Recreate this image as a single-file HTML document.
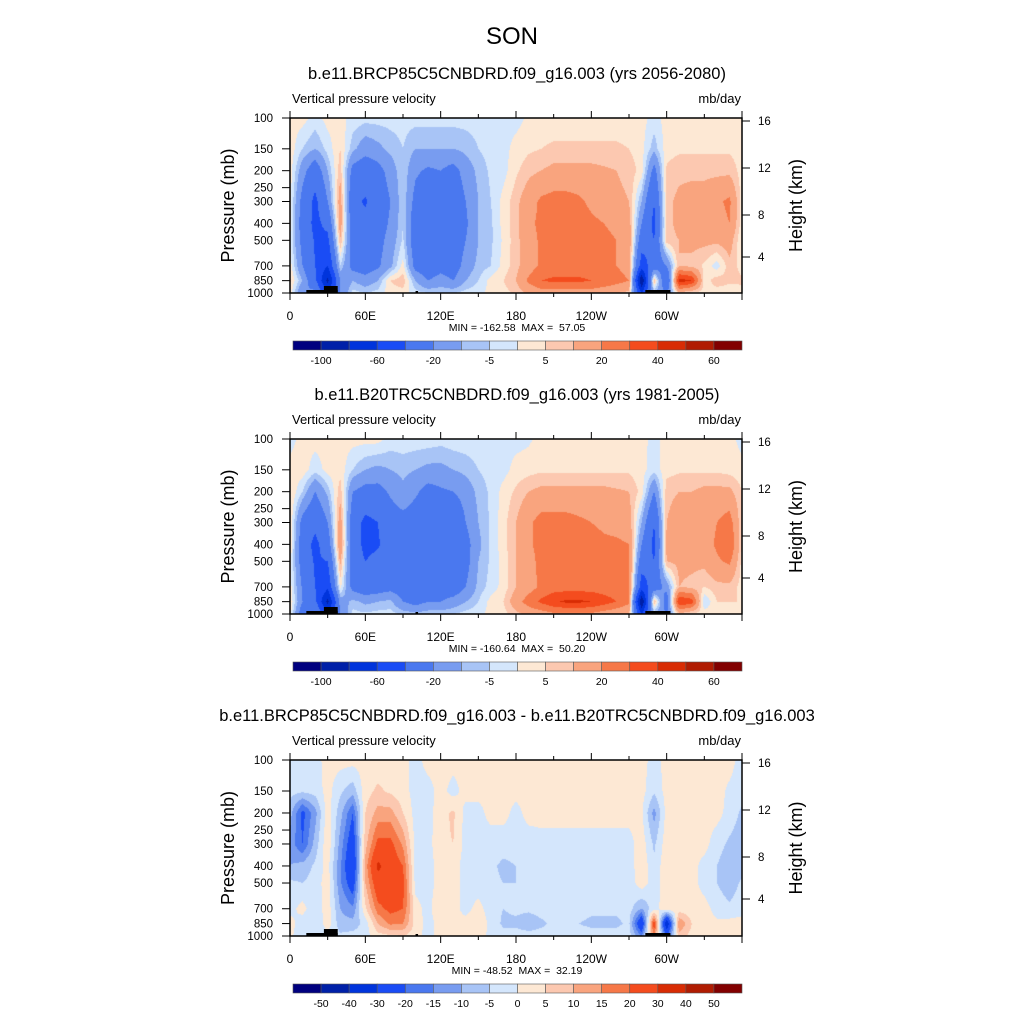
<!DOCTYPE html>
<html><head><meta charset="utf-8">
<style>
body{margin:0;background:#fff;width:1024px;height:1024px;overflow:hidden;position:relative;font-family:"Liberation Sans",sans-serif}
canvas{position:absolute}
svg{position:absolute;left:0;top:0}
svg text{white-space:pre}
</style></head>
<body>
<canvas id="c1" width="452" height="175" style="left:290px;top:118px"></canvas>
<canvas id="c2" width="452" height="175" style="left:290px;top:439px"></canvas>
<canvas id="c3" width="452" height="176" style="left:290px;top:760px"></canvas>
<svg id="s" width="1024" height="1024"></svg>
<script>
const levelsP=[100,150,200,300,400,500,700,850,1000];
const xTickLabels=["0","60E","120E","180","120W","60W"];
const pTicks=[100,150,200,250,300,400,500,700,850,1000];
const hTicks=["16","12","8","4"];
const contour1=[-100,-80,-60,-40,-20,-10,-5,0,5,10,20,30,40,50,60];
const contour3=[-50,-40,-30,-20,-15,-10,-5,0,5,10,15,20,30,40,50];
const colors=['#00007f','#0020a8','#0034dc','#1a4cf5','#4a78ef','#789cf0','#a8c4f6','#d4e6fc','#fde8d4','#fcc8b0','#f9a47e','#f67848','#f44c1e','#d82c04','#b01c02','#820000'];

const future=[
[2,2,-2,2,2,-2,-3,-3,-3,-3,-3,-3,-3,-3,-3,-3,-3,-2,-2,1,2,2,2,2,2,2,2,2,2,-2,2,2,2,2,2,2,2],
[3,-5,-10,-3,5,-8,-15,-12,-8,-5,-10,-10,-10,-10,-8,-5,-3,-2,2,4,5,6,6,6,6,6,6,5,2,-8,3,4,4,4,4,4,3],
[3,-15,-30,-10,8,-25,-30,-25,-15,-5,-18,-22,-20,-25,-15,-8,-4,-2,4,8,10,12,12,12,12,11,10,8,3,-25,6,8,8,8,8,8,3],
[2,-25,-45,-20,15,-35,-42,-30,-20,-5,-25,-30,-35,-30,-20,-10,-5,2,8,15,22,24,24,22,18,15,12,10,-10,-40,8,12,14,14,18,22,2],
[2,-28,-45,-35,15,-30,-35,-28,-18,-5,-30,-35,-35,-35,-22,-10,-6,2,8,18,22,24,24,24,22,20,18,14,-20,-45,8,12,14,14,16,20,2],
[0,-25,-42,-45,10,-28,-30,-25,-15,-4,-30,-35,-30,-30,-20,-10,-6,1,8,15,22,24,24,24,24,22,20,16,-30,-40,8,10,12,12,12,14,0],
[3,-20,-40,-60,-5,-25,-28,-22,-12,2,-25,-30,-25,-28,-15,-8,-5,2,8,15,22,24,24,24,24,22,20,16,-50,-30,-20,10,8,4,-3,8,3],
[6,-10,-35,-85,-20,-10,-15,-10,5,8,-10,-20,-15,-20,-10,-5,2,5,10,22,30,32,32,32,30,28,24,20,-100,10,-40,45,40,2,8,6,6],
[3,-20,-15,-60,-20,-3,-5,-3,3,3,-3,-5,-5,-5,-3,-2,2,3,6,12,15,15,15,15,15,12,10,8,-60,-10,-20,8,3,3,2,2,3]];
const historical=[
[-2,2,2,2,2,2,2,2,-2,-2,-2,-2,-3,-2,-2,-2,-2,-2,-2,-1,2,2,2,2,2,2,2,2,2,-2,2,2,2,2,2,2,-2],
[2,3,-3,2,3,-5,-10,-12,-10,-8,-10,-12,-12,-10,-8,-5,-3,-2,2,3,4,4,4,4,4,4,4,4,2,-3,3,4,4,4,4,3,2],
[5,-5,-20,-8,8,-20,-25,-25,-18,-12,-18,-25,-22,-20,-15,-8,-4,2,6,10,12,12,12,12,12,12,11,10,3,-20,8,10,10,12,12,12,5],
[5,-25,-35,-20,15,-30,-45,-40,-28,-25,-28,-35,-30,-35,-20,-10,-4,3,10,18,24,24,24,22,20,18,16,14,-10,-40,10,15,12,14,20,25,5],
[5,-30,-45,-30,18,-30,-45,-42,-30,-28,-30,-35,-30,-35,-25,-12,-4,3,10,18,24,25,25,25,24,22,22,20,-20,-45,12,15,12,14,22,30,5],
[3,-28,-42,-40,12,-30,-40,-35,-28,-30,-35,-30,-30,-30,-25,-10,-4,2,10,15,24,25,25,25,25,24,24,22,-30,-40,10,12,12,12,18,22,3],
[3,-22,-40,-55,2,-25,-30,-28,-25,-28,-30,-28,-30,-30,-20,-8,-3,2,10,15,22,25,25,25,25,24,24,22,-50,-30,-15,10,8,5,8,8,3],
[5,-20,-35,-85,-15,-8,-12,-10,-8,-20,-25,-20,-20,-15,-10,-5,2,5,15,25,32,38,42,42,40,35,30,22,-100,10,-30,40,35,-5,5,5,5],
[3,-30,-15,-60,-20,-3,-4,-3,-3,-6,-8,-6,-6,-5,-3,-2,2,3,8,12,15,18,18,18,18,15,12,10,-60,-10,-20,8,3,3,2,2,3]];
const difference=[
[-2,-2,-2,2,2,2,2,2,2,2,-2,2,2,2,2,2,2,2,2,2,2,2,2,2,2,2,2,2,2,-2,2,2,2,2,2,2,-2],
[-3,-4,-3,2,-4,-8,3,6,4,2,-2,-2,2,-2,2,2,2,2,2,2,2,2,2,2,2,2,2,2,2,-4,2,2,2,2,2,-1,-3],
[-8,-22,-12,3,-8,-20,5,12,12,5,-2,-2,3,6,-2,-2,2,2,-2,2,2,2,2,2,2,2,2,2,1,-12,2,2,2,2,2,-2,-6],
[-12,-20,-8,4,-12,-26,8,22,22,14,-2,-2,4,5,-2,-2,-3,-3,-3,-3,-2,-2,-2,-2,-2,-2,-2,-2,3,-6,3,3,2,2,-3,-6,-8],
[-10,-8,-4,2,-14,-30,12,32,25,20,-2,-2,2,2,-2,-3,-4,-6,-5,-5,-4,-3,-3,-3,-3,-3,-3,-3,4,-4,4,3,2,-2,-5,-8,-8],
[-4,-5,-3,3,-14,-25,10,26,25,22,-2,-2,2,2,-2,-3,-4,-5,-5,-4,-3,-3,-3,-3,-3,-3,-3,-3,3,-3,3,2,2,-2,-5,-8,-4],
[-2,2,-4,3,-10,-14,4,18,22,20,2,-2,5,2,-2,2,-3,-5,-4,-4,-3,-3,-3,-3,-4,-4,-4,-3,-10,-2,3,2,2,2,-2,-4,-2],
[2,-3,-5,3,-8,-8,-3,10,16,15,3,-2,2,2,2,5,-2,-6,-6,-8,-6,-4,-5,-5,-6,-6,-6,-4,-30,25,-40,15,5,2,1,2,2],
[1,-3,-3,-2,-4,-3,-2,3,4,5,2,-2,2,2,2,3,-2,-3,-3,-3,-3,-3,-3,-3,-3,-3,-3,-3,-15,15,-20,8,3,2,1,1,1]];

function hex(c){return [parseInt(c.substr(1,2),16),parseInt(c.substr(3,2),16),parseInt(c.substr(5,2),16)];}
const rgb=colors.map(hex);
function draw(id,grid,lev){
  const cv=document.getElementById(id),ctx=cv.getContext('2d');
  const W=cv.width,H=cv.height,img=ctx.createImageData(W,H);
  const lz=levelsP.map(p=>Math.log(p));
  for(let y=0;y<H;y++){
    const lp=Math.log(100)+(y+0.5)/H*Math.log(10);
    let r=0;while(r<levelsP.length-2&&lz[r+1]<lp)r++;
    const fy=Math.min(1,Math.max(0,(lp-lz[r])/(lz[r+1]-lz[r])));
    for(let x=0;x<W;x++){
      const lon=(x+0.5)/W*360;let c=Math.min(35,Math.floor(lon/10));const fx=lon/10-c;
      const a=grid[r][c]*(1-fx)+grid[r][c+1]*fx,b=grid[r+1][c]*(1-fx)+grid[r+1][c+1]*fx;
      const v=a*(1-fy)+b*fy;let k=0;while(k<lev.length&&v>=lev[k])k++;
      const i=(y*W+x)*4,col=rgb[k];img.data[i]=col[0];img.data[i+1]=col[1];img.data[i+2]=col[2];img.data[i+3]=255;
    }
  }
  ctx.putImageData(img,0,0);
}
draw('c1',future,contour1);draw('c2',historical,contour1);draw('c3',difference,contour3);

const S=document.getElementById('s'),NS='http://www.w3.org/2000/svg';
function el(t,a,txt){const e=document.createElementNS(NS,t);for(const k in a)e.setAttribute(k,a[k]);if(txt!==undefined)e.textContent=txt;S.appendChild(e);return e;}
let t=el('text',{x:512,y:44,'font-size':24,'text-anchor':'middle'},'SON');


const titles=['b.e11.BRCP85C5CNBDRD.f09_g16.003 (yrs 2056-2080)','b.e11.B20TRC5CNBDRD.f09_g16.003 (yrs 1981-2005)','b.e11.BRCP85C5CNBDRD.f09_g16.003 - b.e11.B20TRC5CNBDRD.f09_g16.003'];
const tops=[118,439,760],H=[175,175,176];
const minmax=['MIN = -162.58  MAX =  57.05','MIN = -160.64  MAX =  50.20','MIN = -48.52  MAX =  32.19'];
const L=290,R=742,Wd=452;
for(let i=0;i<3;i++){
  const T=tops[i],B=T+H[i];
  t=el('text',{x:517,y:T-39,'font-size':16.5,'text-anchor':'middle'},titles[i]);
  
  
  t=el('text',{x:292,y:T-15,'font-size':13},'Vertical pressure velocity');
  
  
  t=el('text',{x:741,y:T-15,'font-size':13,'text-anchor':'end'},'mb/day');
  
  
  const topo=[[13,B-3,25,3],[27,B-7,11,7],[100,B-2,2,2],[283,B-3,20,3]];
  topo.forEach(s=>{const r=el('rect',{x:L+s[0]*Wd/360,y:s[1],width:s[2]*Wd/360,height:s[3],fill:'#000'});
    
    });
  const fr=el('rect',{x:L,y:T,width:Wd,height:H[i],fill:'none',stroke:'#000','stroke-width':1.5});
  
  
  for(let d=0;d<=360;d+=30){const x=L+d*Wd/360,len=d%60==0?7:4;
    el('line',{x1:x,x2:x,y1:B,y2:B+len,stroke:'#000'});el('line',{x1:x,x2:x,y1:T,y2:T-len,stroke:'#000'});
    if(d%60==0&&d<360){t=el('text',{x:x,y:B+27,'font-size':12,'text-anchor':'middle'},xTickLabels[d/60]);
      
      }}
  pTicks.forEach(p=>{const y=T+H[i]*Math.log10(p/100);el('line',{x1:L-8,x2:L,y1:y,y2:y,stroke:'#000'});
    t=el('text',{x:273,y:y+4,'font-size':11.5,'text-anchor':'end'},String(p));
    
    });
  const hy=[3,50,97,139];
  hTicks.forEach((h,j)=>{const y=T+hy[j];el('line',{x1:R,x2:R+8,y1:y,y2:y,stroke:'#000'});
    t=el('text',{x:758,y:y+4,'font-size':11.5},h);
    
    });
  const cy=T+H[i]/2;
  t=el('text',{x:234,y:cy,'font-size':18,'text-anchor':'middle',transform:`rotate(-90 234 ${cy})`},'Pressure (mb)');
  
  
  t=el('text',{x:802,y:cy,'font-size':18,'text-anchor':'middle',transform:`rotate(-90 802 ${cy})`},'Height (km)');
  
  
  t=el('text',{x:517,y:B+38,'font-size':10.5,'text-anchor':'middle'},minmax[i]);
  
  
  const cbY=B+48,bw=449/16,lev=i==2?contour3:contour1;
  for(let k=0;k<16;k++){const r=el('rect',{x:293+k*bw,y:cbY,width:bw,height:9,fill:colors[k],stroke:'#555','stroke-width':0.6});
    
    }
  for(let k=1;k<16;k++){if(i<2&&k%2==0)continue;
    t=el('text',{x:293+k*bw,y:cbY+23,'font-size':10.5,'text-anchor':'middle'},String(lev[k-1]));
    
    }
}
</script>
</body></html>
